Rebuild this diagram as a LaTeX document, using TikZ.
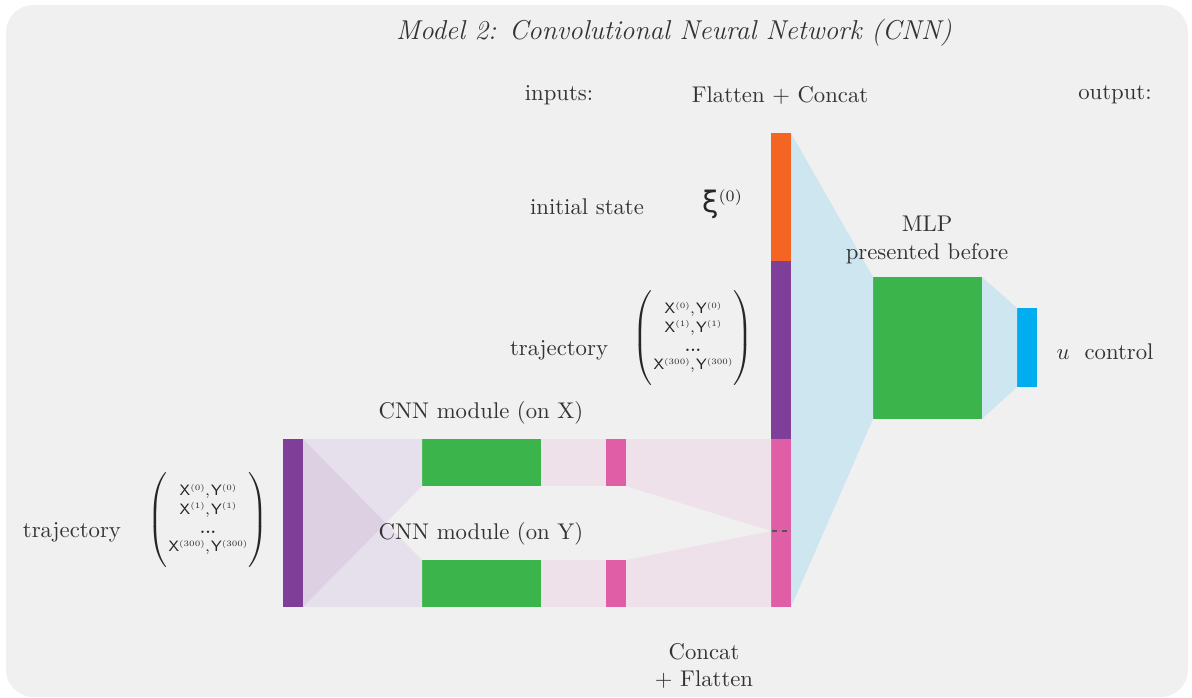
\documentclass[tikz,border=0pt]{standalone}
\usepackage{fontspec}
\newfontfamily\dejavu{DejaVu Sans}
\definecolor{bgc}{HTML}{F0F0F0}
\definecolor{cpurple}{HTML}{7F3F98}
\definecolor{corange}{HTML}{F46524}
\definecolor{cpink}{HTML}{E05EA5}
\definecolor{cgreen}{HTML}{3BB54B}
\definecolor{ccyan}{HTML}{00AEEF}
\definecolor{clblue}{HTML}{CEE6F0}
\definecolor{clav}{HTML}{E5E0EB}
\definecolor{clavd}{HTML}{DDD0E3}
\definecolor{clpink}{HTML}{EFE1EA}
\definecolor{ctext}{HTML}{333333}
\definecolor{cdash}{HTML}{555555}
\newcommand\supsm[1]{\raisebox{2.5pt}{\fontsize{3.6}{4}\selectfont(#1)}}
\newcommand\xyrow[1]{\hbox{\textsf{X}\supsm{#1}\kern0.2pt,\kern0.5pt\textsf{Y}\supsm{#1}}}
\newcommand\trajmat{$\left(\vrule height 21pt depth 21pt width 0pt
\begin{array}{@{\kern0.5pt}c@{\kern0.5pt}}
\xyrow{0}\\
\xyrow{1}\\
\hbox{\textbf{...}}\\
\xyrow{300}
\end{array}\right)$}
\begin{document}
\begin{tikzpicture}[x=0.44pt,y=-0.44pt,
  blk/.style={rectangle, draw=none, inner sep=0pt, outer sep=0pt},
  txt/.style={text=ctext, inner sep=0pt, font=\normalsize},
  mat/.style={text=black!85, inner sep=0pt, font=\fontsize{6.6}{8.2}\selectfont}]
\useasboundingbox (0,0) rectangle (1192,697);
\fill[white] (0,0) rectangle (1192,697);
\fill[bgc, rounded corners=12pt] (6,5) rectangle (1188,697);

% blocks
\node[blk, fill=cpurple, minimum width=8.8pt, minimum height=73.92pt] (inbar) at (293,523) {};
\node[blk, fill=cgreen, minimum width=52.36pt, minimum height=20.68pt] (gX) at (481.5,462.5) {};
\node[blk, fill=cgreen, minimum width=52.36pt, minimum height=20.68pt] (gY) at (481.5,583.5) {};
\node[blk, fill=clpink, minimum width=28.6pt, minimum height=20.68pt] (lpX) at (573.5,462.5) {};
\node[blk, fill=clpink, minimum width=28.6pt, minimum height=20.68pt] (lpY) at (573.5,583.5) {};
\node[blk, fill=cpink, minimum width=8.8pt, minimum height=20.68pt] (pX) at (616,462.5) {};
\node[blk, fill=cpink, minimum width=8.8pt, minimum height=20.68pt] (pY) at (616,583.5) {};
\node[blk, fill=corange, minimum width=8.8pt, minimum height=56.32pt] (barO) at (781,197) {};
\node[blk, fill=cpurple, minimum width=8.8pt, minimum height=78.32pt] (barP) at (781,350) {};
\node[blk, fill=cpink, minimum width=8.8pt, minimum height=73.92pt] (barK) at (781,523) {};
\node[blk, fill=cgreen, minimum width=47.96pt, minimum height=62.48pt] (mlp) at (927.5,348) {};
\node[blk, fill=ccyan, minimum width=8.8pt, minimum height=34.76pt] (out) at (1027,347.5) {};
\coordinate (cm) at (771,531);

% translucent links
\fill[clav] (inbar.north east) -- (gX.north west) -- (gX.south west) -- (inbar.south east) -- cycle;
\fill[clav] (inbar.north east) -- (gY.north west) -- (gY.south west) -- (inbar.south east) -- cycle;
\fill[clavd] (inbar.north east)
  -- (intersection of inbar.north east--gY.north west and inbar.south east--gX.south west)
  -- (inbar.south east) -- cycle;
\fill[clpink] (pX.north east) -- (barK.north west) -- (cm) -- (pX.south east) -- cycle;
\fill[clpink] (pY.north east) -- (cm) -- (barK.south west) -- (pY.south east) -- cycle;
\fill[clblue] (barO.north east) -- (mlp.north west) -- (mlp.south west) -- (barK.south east) -- cycle;
\fill[clblue] (mlp.north east) -- (out.north west) -- (out.south west) -- (mlp.south east) -- cycle;
\draw[cdash, line width=1.2pt, dash pattern=on 2.2pt off 2.2pt] (772,531) -- (790,531);

% texts
\node[txt, font=\large\itshape] (title) at (674,33) {Model 2: Convolutional Neural Network (CNN)};
\node[txt] (lin) at (559,95) {inputs:};
\node[txt] (lfc) at (780,95) {Flatten + Concat};
\node[txt] (lout) at (1115,95) {output:};
\node[txt] (lis) at (587,207) {initial state};
\node[txt, text=black!85] (xi) at (722,204) {{\dejavu\fontsize{13}{15}\selectfont ξ}\raisebox{5pt}{\scriptsize(0)}};
\node[txt] (ltraj1) at (559,350) {trajectory};
\node[mat] (m1) at (693,340) {\trajmat};
\node[txt] (lcx) at (481,413) {CNN module (on X)};
\node[txt] (lcy) at (481,534) {CNN module (on Y)};
\node[txt] (ltraj2) at (72,532) {trajectory};
\node[mat] (m2) at (208,522) {\trajmat};
\node[txt, align=center] (lmlp) at (927,240) {MLP\\presented before};
\node[txt] (lu) at (1105,352) {$u$~~control};
\node[txt, align=center] (lcf) at (704,666) {Concat\\+ Flatten};
\end{tikzpicture}
\end{document}
